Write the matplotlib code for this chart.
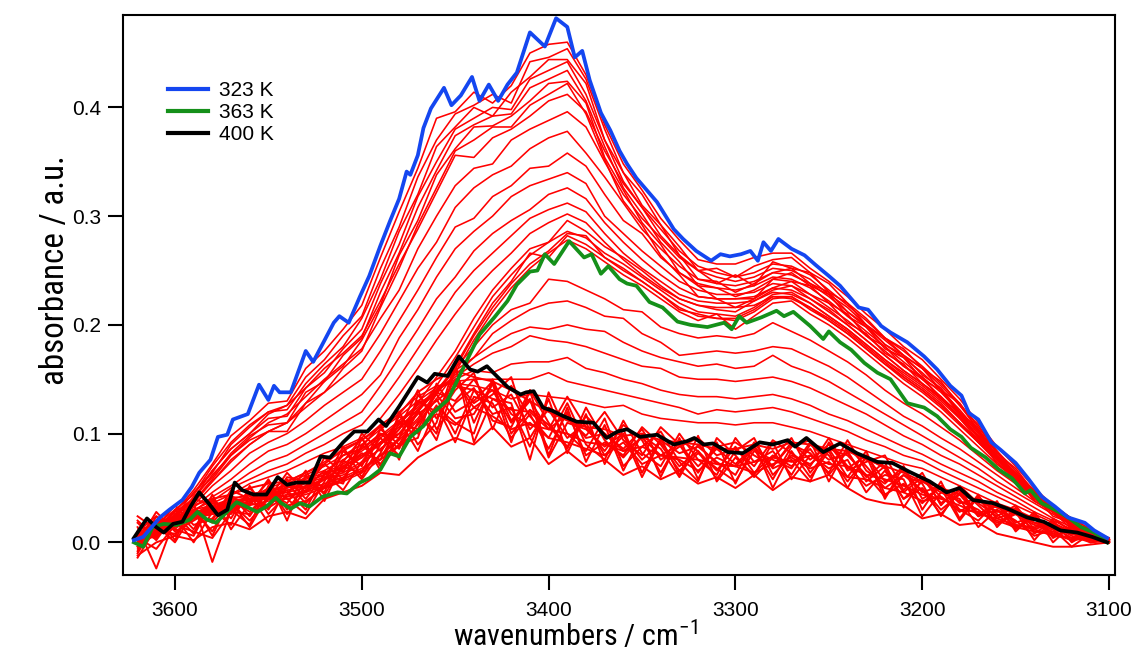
import matplotlib
matplotlib.use("Agg")
import matplotlib.pyplot as plt
from matplotlib.lines import Line2D
from matplotlib.ticker import FormatStrFormatter
from matplotlib import font_manager
import numpy as np

# red spectra share one wavenumber grid: 3620 -> 3100 cm-1, every 10
wn_grid = np.arange(3620, 3099, -10)

# red spectra, values in milli-absorbance
# top group, just under the 323 K curve
red_a1 = [-2, 14, 28, 48, 72, 98, 112, 128, 130, 160, 176, 196, 218, 262, 304, 344, 390, 396, 414, 404, 420, 450, 458, 460, 430, 384, 348, 324, 298, 278, 260, 256, 256, 262, 266, 266, 252, 240, 226, 210, 196, 180, 168, 150, 132, 110, 88, 70, 50, 34, 22, 12, 4]
red_a2 = [8, 10, 30, 44, 70, 92, 108, 120, 126, 152, 168, 190, 208, 252, 290, 336, 370, 394, 402, 412, 404, 442, 446, 454, 426, 380, 340, 320, 292, 272, 250, 252, 244, 254, 260, 262, 248, 238, 220, 206, 188, 178, 160, 148, 126, 108, 82, 68, 46, 32, 18, 10, 2]
red_a3 = [0, 18, 24, 46, 64, 90, 106, 120, 122, 146, 164, 180, 206, 242, 286, 320, 364, 382, 400, 392, 414, 428, 444, 444, 422, 370, 340, 310, 292, 264, 250, 238, 246, 236, 258, 252, 248, 230, 220, 200, 188, 172, 160, 140, 128, 102, 84, 62, 48, 28, 20, 8, 4]
red_a4 = [10, 6, 26, 40, 66, 86, 100, 114, 116, 142, 156, 178, 196, 238, 274, 318, 350, 380, 390, 400, 398, 426, 434, 442, 412, 370, 332, 308, 282, 264, 242, 240, 230, 238, 248, 252, 238, 230, 212, 200, 182, 172, 154, 142, 120, 104, 78, 64, 42, 30, 16, 10, 2]
red_a5 = [-4, 12, 22, 42, 60, 82, 98, 108, 110, 138, 148, 172, 188, 230, 266, 308, 342, 374, 384, 392, 394, 418, 426, 434, 406, 364, 326, 302, 276, 258, 236, 234, 226, 232, 242, 248, 236, 228, 208, 198, 178, 170, 150, 140, 118, 102, 76, 62, 40, 30, 14, 8, 4]
red_a6 = [6, 4, 26, 38, 58, 80, 94, 102, 110, 128, 148, 162, 186, 218, 264, 296, 338, 362, 382, 383, 392, 406, 422, 424, 404, 354, 324, 294, 274, 248, 236, 224, 224, 224, 242, 240, 236, 220, 210, 190, 180, 162, 152, 132, 120, 96, 78, 56, 42, 24, 18, 6, 2]
red_a7 = [2, 16, 20, 36, 56, 76, 90, 102, 102, 128, 138, 160, 176, 216, 252, 292, 326, 360, 370, 382, 382, 402, 412, 422, 394, 352, 314, 292, 264, 246, 226, 224, 216, 224, 234, 240, 228, 220, 202, 192, 174, 164, 146, 134, 114, 98, 72, 60, 38, 28, 12, 8, 2]

# intermediate group, shoulder at 3450 fading
red_b1 = [4, 16, 30, 44, 66, 86, 100, 118, 126, 142, 160, 174, 190, 222, 256, 288, 322, 356, 354, 372, 380, 392, 406, 412, 396, 360, 330, 308, 288, 268, 254, 248, 244, 248, 256, 254, 246, 232, 218, 204, 188, 176, 162, 146, 128, 106, 84, 66, 46, 30, 18, 10, 2]
red_b2 = [6, 12, 28, 40, 62, 80, 96, 110, 118, 134, 150, 164, 178, 206, 232, 270, 300, 328, 344, 348, 370, 380, 388, 396, 382, 350, 320, 298, 280, 262, 250, 244, 240, 244, 252, 250, 242, 228, 216, 200, 186, 172, 160, 144, 126, 104, 82, 64, 46, 30, 18, 10, 2]
red_b3 = [-2, 16, 24, 38, 56, 74, 90, 102, 110, 124, 138, 152, 166, 192, 222, 252, 276, 308, 326, 338, 346, 362, 372, 378, 358, 336, 312, 288, 270, 254, 242, 238, 236, 240, 248, 246, 238, 226, 212, 198, 182, 170, 156, 140, 122, 102, 80, 62, 44, 30, 18, 8, 2]
red_b4 = [4, 10, 26, 34, 52, 66, 82, 92, 100, 112, 126, 138, 150, 176, 204, 232, 262, 290, 298, 318, 328, 344, 346, 358, 346, 320, 296, 284, 262, 248, 238, 234, 232, 236, 244, 242, 234, 222, 208, 194, 180, 166, 152, 138, 120, 100, 80, 62, 44, 30, 18, 8, 2]
red_b5 = [0, 14, 22, 32, 46, 58, 72, 84, 90, 100, 112, 124, 136, 154, 188, 214, 244, 270, 286, 300, 318, 328, 334, 340, 330, 300, 284, 268, 254, 240, 232, 228, 228, 230, 238, 236, 228, 216, 204, 190, 176, 162, 150, 134, 118, 98, 78, 60, 42, 28, 16, 8, 2]
red_b6 = [6, 8, 24, 28, 42, 52, 64, 74, 80, 90, 100, 110, 120, 144, 170, 196, 224, 244, 268, 284, 296, 306, 320, 326, 316, 294, 276, 260, 246, 234, 226, 224, 224, 226, 234, 232, 224, 212, 200, 186, 172, 158, 146, 132, 116, 96, 78, 60, 42, 28, 16, 8, 2]
red_b7 = [-2, 12, 20, 30, 38, 50, 58, 66, 72, 82, 90, 100, 108, 128, 152, 178, 204, 230, 250, 266, 282, 298, 306, 312, 304, 284, 266, 252, 240, 228, 222, 220, 220, 222, 230, 228, 220, 208, 196, 182, 168, 156, 144, 130, 114, 94, 76, 58, 42, 28, 16, 8, 2]
red_b8 = [2, 10, 22, 26, 36, 44, 54, 60, 66, 74, 82, 88, 96, 114, 136, 160, 186, 210, 232, 250, 266, 284, 294, 302, 294, 276, 260, 246, 234, 224, 218, 216, 216, 218, 226, 224, 216, 204, 192, 178, 164, 152, 140, 126, 110, 92, 74, 58, 40, 28, 16, 8, 2]

# group around the 363 K curve
red_c1 = [2, 10, 22, 30, 34, 40, 44, 48, 52, 56, 62, 70, 80, 92, 108, 128, 152, 176, 206, 232, 252, 270, 276, 296, 286, 272, 262, 250, 236, 224, 218, 214, 212, 222, 232, 236, 224, 214, 200, 186, 172, 158, 146, 132, 116, 98, 80, 64, 48, 34, 22, 12, 2]
red_c2 = [-6, 12, 18, 28, 30, 36, 40, 42, 46, 50, 58, 62, 72, 86, 100, 120, 144, 170, 198, 226, 246, 264, 276, 286, 280, 266, 256, 244, 232, 220, 212, 210, 208, 216, 228, 230, 220, 208, 196, 182, 168, 154, 142, 128, 110, 94, 78, 62, 46, 32, 20, 10, 4]
red_c3 = [4, 6, 20, 26, 28, 34, 36, 44, 42, 48, 54, 60, 68, 80, 96, 114, 138, 162, 192, 220, 240, 266, 262, 282, 274, 262, 250, 240, 228, 216, 208, 206, 204, 212, 224, 226, 214, 204, 192, 178, 164, 150, 138, 124, 108, 92, 76, 60, 44, 30, 20, 10, 2]
red_c4 = [0, 8, 16, 24, 26, 32, 34, 38, 40, 44, 50, 56, 64, 76, 90, 108, 132, 156, 186, 212, 234, 252, 266, 278, 270, 258, 246, 236, 224, 212, 204, 210, 196, 208, 220, 222, 210, 200, 188, 174, 160, 146, 134, 120, 104, 88, 72, 58, 42, 30, 18, 8, 2]
red_c5 = [-2, 14, 14, 22, 30, 30, 38, 40, 44, 46, 52, 58, 66, 80, 94, 112, 136, 160, 190, 216, 238, 256, 268, 284, 282, 262, 252, 240, 228, 214, 210, 206, 206, 214, 226, 226, 216, 206, 194, 180, 166, 152, 140, 126, 110, 92, 76, 60, 44, 32, 20, 10, 2]

# transition group between 363 K and 400 K
red_d1 = [0, 10, 18, 26, 30, 34, 38, 44, 48, 52, 58, 64, 74, 86, 100, 120, 140, 160, 180, 200, 214, 220, 242, 240, 232, 224, 214, 212, 198, 192, 188, 190, 188, 192, 202, 194, 186, 176, 166, 154, 140, 128, 118, 106, 94, 80, 66, 54, 42, 30, 20, 10, 2]
red_d2 = [4, 8, 20, 24, 32, 36, 40, 42, 50, 54, 60, 66, 78, 90, 104, 122, 140, 158, 170, 192, 204, 214, 220, 222, 216, 208, 206, 192, 184, 172, 174, 176, 174, 176, 180, 178, 170, 162, 152, 140, 128, 116, 107, 96, 86, 74, 62, 50, 38, 28, 18, 10, 2]
red_d3 = [-4, 12, 16, 28, 28, 38, 36, 46, 46, 56, 62, 70, 80, 92, 106, 122, 138, 154, 170, 182, 192, 198, 196, 200, 196, 194, 184, 176, 170, 166, 162, 164, 160, 162, 172, 162, 156, 148, 138, 128, 118, 108, 98, 88, 78, 68, 56, 46, 36, 26, 16, 8, 2]
red_d4 = [2, 6, 22, 22, 34, 32, 42, 40, 52, 58, 64, 72, 84, 96, 110, 124, 140, 152, 164, 174, 180, 190, 186, 184, 180, 174, 168, 162, 160, 152, 150, 150, 148, 150, 152, 148, 142, 134, 126, 118, 108, 98, 90, 80, 72, 62, 52, 42, 32, 22, 14, 8, 0]
red_d5 = [6, 14, 14, 30, 26, 40, 38, 48, 50, 60, 66, 76, 86, 98, 112, 126, 140, 150, 158, 156, 164, 166, 166, 170, 160, 156, 150, 146, 140, 136, 134, 134, 132, 134, 136, 132, 126, 118, 112, 104, 96, 88, 81, 72, 64, 56, 46, 38, 28, 20, 12, 6, 0]
red_d6 = [-2, 10, 18, 24, 36, 34, 44, 46, 54, 62, 70, 80, 90, 104, 116, 130, 142, 148, 150, 150, 150, 150, 156, 148, 144, 140, 136, 132, 128, 124, 118, 122, 120, 122, 124, 120, 114, 108, 102, 94, 88, 80, 75, 66, 58, 50, 42, 34, 26, 18, 10, 4, 0]
red_d7 = [2, 12, 12, 28, 30, 42, 40, 50, 56, 64, 74, 84, 94, 108, 120, 134, 144, 146, 144, 140, 132, 136, 134, 132, 128, 124, 126, 118, 114, 112, 110, 110, 108, 110, 110, 106, 102, 96, 90, 84, 78, 72, 68, 60, 52, 44, 36, 30, 22, 16, 10, 4, 0]

# dense noisy band around the 400 K curve
red_e1 = [20, 4, 30, 12, 40, 22, 50, 30, 58, 40, 62, 80, 86, 100, 96, 130, 120, 150, 128, 140, 110, 130, 104, 118, 96, 100, 84, 96, 80, 90, 70, 86, 72, 88, 70, 92, 76, 90, 68, 80, 56, 66, 46, 52, 36, 40, 28, 30, 18, 16, 8, 10, 2]
red_e2 = [-10, 18, 6, 30, 10, 40, 28, 46, 36, 60, 50, 68, 82, 76, 110, 104, 138, 130, 150, 124, 136, 104, 122, 96, 110, 80, 98, 76, 92, 70, 84, 66, 88, 64, 80, 70, 86, 62, 84, 56, 70, 46, 60, 36, 48, 26, 36, 18, 24, 8, 14, 2, 4]
red_e3 = [10, 24, 2, 36, -18, 30, 16, 52, 26, 48, 60, 54, 96, 70, 90, 120, 100, 160, 110, 146, 92, 140, 80, 124, 74, 108, 66, 100, 60, 96, 58, 92, 54, 90, 50, 84, 60, 84, 50, 80, 40, 70, 30, 56, 22, 44, 14, 32, 8, 20, 0, 10, 0]
red_e4 = [-4, 8, 24, 0, 28, 36, 20, 40, 48, 30, 64, 48, 74, 96, 80, 110, 132, 100, 140, 118, 124, 88, 132, 82, 118, 72, 104, 64, 96, 62, 98, 56, 78, 62, 92, 58, 80, 68, 76, 46, 66, 40, 50, 30, 44, 24, 30, 14, 22, 6, 12, 0, 2]
red_e5 = [24, 12, 18, 26, 20, 48, 40, 34, 60, 56, 46, 84, 70, 104, 90, 96, 146, 120, 130, 148, 100, 122, 108, 86, 124, 94, 78, 98, 86, 60, 90, 72, 70, 86, 58, 88, 94, 56, 88, 70, 50, 62, 54, 24, 50, 34, 18, 26, 16, 14, 4, 8, 0]
red_e6 = [0, 28, 10, 20, 30, 16, 52, 26, 44, 66, 38, 74, 96, 66, 120, 90, 110, 164, 92, 132, 128, 76, 138, 100, 84, 114, 70, 88, 102, 74, 56, 96, 80, 60, 78, 96, 64, 86, 60, 84, 44, 54, 36, 52, 30, 20, 38, 10, 26, 0, 16, 4, 2]
red_e7 = [14, -24, 22, 34, 6, 42, 34, 58, 30, 52, 72, 58, 88, 108, 76, 136, 114, 140, 156, 104, 144, 116, 96, 128, 90, 76, 112, 82, 70, 100, 76, 62, 96, 74, 84, 62, 90, 76, 82, 60, 74, 32, 58, 42, 28, 40, 22, 28, 2, 22, 10, 6, 2]
red_e8 = [-14, 14, 34, 16, 22, 44, 24, 50, 40, 26, 56, 88, 60, 90, 112, 84, 124, 110, 100, 150, 112, 132, 78, 110, 104, 88, 100, 60, 94, 82, 88, 74, 62, 92, 68, 76, 56, 92, 70, 52, 62, 58, 24, 46, 40, 14, 30, 20, 6, 12, -4, 8, 0]
red_e9 = [6, 20, 16, 40, 34, 26, 46, 40, 64, 46, 78, 64, 100, 84, 104, 140, 104, 128, 142, 112, 106, 140, 110, 88, 116, 100, 86, 104, 76, 88, 96, 80, 86, 70, 94, 82, 70, 96, 66, 74, 80, 48, 64, 34, 52, 36, 24, 34, 12, 18, 8, 2, 0]
red_e10 = [18, 2, 26, 8, 44, 12, 36, 56, 20, 62, 44, 70, 64, 100, 86, 122, 94, 148, 124, 136, 152, 96, 124, 114, 98, 120, 94, 80, 106, 90, 64, 88, 92, 80, 70, 90, 82, 64, 94, 66, 54, 70, 40, 50, 20, 42, 26, 12, 28, 4, 14, 6, 0]
red_e11 = [2, 16, 0, 28, 18, 38, 14, 44, 54, 36, 52, 76, 58, 82, 116, 100, 126, 92, 134, 128, 96, 118, 86, 120, 80, 92, 80, 106, 90, 66, 82, 68, 56, 84, 76, 68, 92, 80, 56, 78, 68, 40, 56, 46, 38, 30, 16, 28, 10, 10, 2, 8, 2]
red_e12 = [-8, 24, 12, 6, 38, 30, 44, 18, 52, 50, 66, 56, 90, 72, 96, 128, 136, 114, 118, 146, 118, 108, 104, 134, 106, 84, 108, 94, 64, 94, 84, 58, 84, 96, 62, 80, 72, 86, 80, 62, 42, 62, 48, 26, 46, 24, 34, 16, 14, 16, 6, 0, 2]
red_e13 = [0, 10, 8, 22, 26, 30, 36, 32, 42, 46, 58, 70, 78, 92, 100, 118, 130, 144, 140, 132, 122, 120, 104, 100, 92, 90, 84, 88, 80, 78, 76, 72, 70, 74, 78, 74, 80, 72, 70, 62, 58, 52, 44, 40, 34, 26, 22, 16, 12, 6, 4, 2, 0]
red_e14 = [-12, 0, 6, 2, 14, 18, 12, 24, 28, 22, 40, 46, 52, 64, 62, 78, 88, 96, 90, 106, 88, 96, 72, 84, 70, 76, 62, 70, 58, 66, 54, 60, 50, 62, 48, 60, 56, 62, 50, 40, 36, 34, 22, 26, 16, 18, 8, 4, 0, -4, -4, -2, 0]
red_e15 = [8, 20, 22, 34, 40, 44, 50, 54, 56, 64, 72, 86, 94, 106, 118, 138, 150, 158, 152, 148, 140, 130, 120, 112, 106, 104, 98, 100, 94, 92, 90, 86, 86, 90, 86, 92, 90, 86, 84, 76, 70, 64, 56, 50, 44, 38, 32, 26, 18, 12, 8, 4, 0]
red_e16 = [4, -6, 16, 10, 4, 28, 26, 40, 34, 38, 50, 58, 66, 80, 88, 104, 118, 108, 124, 116, 104, 110, 96, 92, 86, 80, 92, 72, 80, 76, 66, 78, 70, 64, 72, 78, 68, 74, 60, 58, 50, 46, 38, 42, 30, 28, 20, 14, 10, 8, 2, 4, 0]

band_curves = [red_e1, red_e2, red_e3, red_e4, red_e5, red_e6, red_e7, red_e8,
               red_e9, red_e10, red_e11, red_e12, red_e13, red_e14, red_e15, red_e16]
upper_curves = [red_d1, red_d2, red_d3, red_d4, red_d5, red_d6, red_d7,
                red_c1, red_c2, red_c3, red_c4, red_c5,
                red_b1, red_b2, red_b3, red_b4, red_b5, red_b6, red_b7, red_b8,
                red_a1, red_a2, red_a3, red_a4, red_a5, red_a6, red_a7]

# highlighted spectra, read point by point (wavenumber, absorbance)
wn_323 = [3622, 3617, 3608, 3603, 3596, 3591, 3587, 3581, 3577, 3572, 3569, 3561, 3555, 3550, 3547, 3544, 3538, 3530, 3526, 3515, 3512, 3507, 3501, 3496, 3490, 3485, 3480, 3476, 3474, 3470, 3467, 3463, 3456, 3452, 3447, 3441, 3437, 3432, 3427, 3422, 3417, 3410, 3402, 3396, 3390, 3386, 3382, 3378, 3372, 3367, 3362, 3358, 3353, 3342, 3333, 3328, 3321, 3313, 3308, 3303, 3297, 3292, 3288, 3285, 3281, 3277, 3270, 3263, 3257, 3250, 3244, 3234, 3229, 3222, 3217, 3208, 3199, 3192, 3185, 3179, 3175, 3170, 3163, 3158, 3150, 3143, 3136, 3129, 3122, 3113, 3108, 3101]
abs_323 = [0.002, 0.005, 0.023, 0.030, 0.039, 0.051, 0.064, 0.076, 0.097, 0.099, 0.113, 0.118, 0.145, 0.131, 0.144, 0.138, 0.138, 0.176, 0.166, 0.202, 0.208, 0.202, 0.226, 0.245, 0.273, 0.295, 0.316, 0.341, 0.338, 0.356, 0.381, 0.399, 0.418, 0.402, 0.411, 0.428, 0.406, 0.421, 0.406, 0.421, 0.432, 0.469, 0.456, 0.482, 0.474, 0.446, 0.452, 0.425, 0.395, 0.379, 0.360, 0.348, 0.335, 0.313, 0.288, 0.279, 0.268, 0.259, 0.265, 0.263, 0.265, 0.268, 0.259, 0.276, 0.268, 0.279, 0.270, 0.264, 0.255, 0.245, 0.236, 0.216, 0.214, 0.199, 0.193, 0.184, 0.171, 0.159, 0.144, 0.135, 0.119, 0.113, 0.092, 0.085, 0.073, 0.058, 0.042, 0.033, 0.023, 0.018, 0.011, 0.004]

wn_363 = [3622, 3617, 3612, 3606, 3599, 3592, 3588, 3583, 3578, 3567, 3562, 3556, 3551, 3546, 3543, 3538, 3533, 3528, 3521, 3513, 3508, 3501, 3496, 3490, 3485, 3480, 3474, 3467, 3462, 3454, 3448, 3443, 3437, 3429, 3422, 3417, 3410, 3406, 3402, 3397, 3389, 3381, 3377, 3372, 3368, 3362, 3358, 3353, 3346, 3339, 3331, 3324, 3315, 3306, 3302, 3298, 3294, 3286, 3278, 3274, 3269, 3260, 3253, 3250, 3244, 3238, 3231, 3224, 3217, 3208, 3199, 3192, 3185, 3179, 3174, 3166, 3159, 3152, 3145, 3142, 3136, 3129, 3122, 3115, 3108, 3101]
abs_363 = [0.000, -0.004, 0.014, 0.017, 0.016, 0.021, 0.028, 0.021, 0.018, 0.037, 0.033, 0.028, 0.033, 0.041, 0.036, 0.031, 0.036, 0.033, 0.042, 0.046, 0.045, 0.055, 0.059, 0.067, 0.082, 0.079, 0.097, 0.107, 0.119, 0.131, 0.152, 0.170, 0.191, 0.207, 0.222, 0.237, 0.249, 0.250, 0.265, 0.256, 0.277, 0.262, 0.265, 0.247, 0.254, 0.242, 0.238, 0.236, 0.221, 0.216, 0.203, 0.200, 0.198, 0.202, 0.196, 0.208, 0.202, 0.207, 0.213, 0.208, 0.212, 0.199, 0.187, 0.194, 0.184, 0.177, 0.165, 0.156, 0.150, 0.128, 0.124, 0.116, 0.104, 0.097, 0.087, 0.078, 0.067, 0.059, 0.045, 0.048, 0.036, 0.030, 0.023, 0.014, 0.009, 0.000]

wn_400 = [3622, 3615, 3610, 3606, 3601, 3596, 3592, 3587, 3582, 3577, 3572, 3568, 3564, 3558, 3551, 3545, 3540, 3535, 3528, 3522, 3517, 3510, 3504, 3497, 3491, 3487, 3480, 3470, 3465, 3461, 3454, 3448, 3442, 3438, 3433, 3429, 3422, 3415, 3412, 3408, 3403, 3398, 3392, 3385, 3376, 3369, 3363, 3358, 3351, 3342, 3333, 3326, 3322, 3317, 3312, 3304, 3296, 3287, 3280, 3272, 3268, 3262, 3253, 3244, 3235, 3224, 3216, 3207, 3196, 3187, 3180, 3173, 3162, 3153, 3144, 3135, 3126, 3117, 3109, 3101]
abs_400 = [0.004, 0.022, 0.014, 0.009, 0.017, 0.019, 0.032, 0.046, 0.036, 0.025, 0.030, 0.055, 0.048, 0.044, 0.044, 0.060, 0.053, 0.055, 0.055, 0.079, 0.078, 0.092, 0.102, 0.102, 0.113, 0.107, 0.125, 0.152, 0.147, 0.155, 0.153, 0.171, 0.159, 0.157, 0.162, 0.155, 0.143, 0.136, 0.138, 0.139, 0.124, 0.121, 0.116, 0.111, 0.110, 0.096, 0.102, 0.104, 0.097, 0.099, 0.090, 0.093, 0.096, 0.090, 0.091, 0.083, 0.082, 0.092, 0.090, 0.094, 0.088, 0.096, 0.083, 0.091, 0.082, 0.074, 0.073, 0.065, 0.056, 0.046, 0.050, 0.039, 0.036, 0.030, 0.023, 0.019, 0.011, 0.009, 0.005, 0.000]

labels = ["323 K", "363 K", "400 K"]
colors = ["#1446f0", "#15901a", "black"]

tick_font = "Liberation Sans"

# axis titles in the reference use a narrow face; take one if there is any
entries = font_manager.fontManager.ttflist
names = {f.name for f in entries}
label_font, label_stretch = "Liberation Sans", "normal"
for cand in ["Liberation Sans Narrow", "Roboto Condensed", "Noto Sans Condensed",
             "DejaVu Sans Condensed", "Open Sans Condensed"]:
    if cand in names:
        label_font = cand
        break
else:
    for f in entries:
        if f.name in ("Noto Sans", "DejaVu Sans", "Roboto") and str(f.stretch) == "condensed":
            label_font, label_stretch = f.name, "condensed"
            break

fig = plt.figure(figsize=(11.37, 6.6), dpi=100)
ax = fig.add_axes([0.1082, 0.1288, 0.8725, 0.8485])

for curve in band_curves:
    ax.plot(wn_grid, np.array(curve) / 1000.0, color="#ff0000", lw=1.4)
for curve in upper_curves:
    ax.plot(wn_grid, np.array(curve) / 1000.0, color="#ff0000", lw=1.15)

ax.plot(wn_363, abs_363, color=colors[1], lw=2.7)
ax.plot(wn_400, abs_400, color=colors[2], lw=2.7)
ax.plot(wn_323, abs_323, color=colors[0], lw=2.7)

ax.set_xlim(3627.8, 3096.8)
ax.set_ylim(-0.030, 0.485)
ax.set_xticks([3600, 3500, 3400, 3300, 3200, 3100])
ax.set_yticks([0.0, 0.1, 0.2, 0.3, 0.4])
ax.yaxis.set_major_formatter(FormatStrFormatter("%.1f"))

for s in ax.spines.values():
    s.set_linewidth(1.5)
ax.tick_params(direction="out", length=11, width=1.5, labelsize=15)
ax.tick_params(axis="x", pad=8)
ax.tick_params(axis="y", pad=5)
for t in ax.get_xticklabels() + ax.get_yticklabels():
    t.set_family(tick_font)

ylab = ax.set_ylabel("absorbance / a.u.", family=label_font, fontstretch=label_stretch, fontsize=26)
xlab = ax.set_xlabel("wavenumbers / cm$^{\\mathregular{-1}}$", family=label_font,
                     fontstretch=label_stretch, fontsize=26)
ax.yaxis.set_label_coords(-0.052, 0.545)
ax.xaxis.set_label_coords(0.456, -0.080)

# size the axis titles to the length they have in the reference
fig.canvas.draw()
r = fig.canvas.get_renderer()
w = xlab.get_window_extent(r).width
h = ylab.get_window_extent(r).height
xlab.set_fontsize(26 * 245.0 / w)
ylab.set_fontsize(26 * 230.0 / h)

handles = [Line2D([], [], color=c, lw=3) for c in colors]
ax.legend(handles, labels, loc="upper left", bbox_to_anchor=(0.045, 0.882),
          frameon=False, prop={"family": tick_font, "size": 15},
          handlelength=1.95, handletextpad=0.5, labelspacing=0.14,
          borderpad=0, borderaxespad=0)

fig.savefig("out.png", dpi=100)
